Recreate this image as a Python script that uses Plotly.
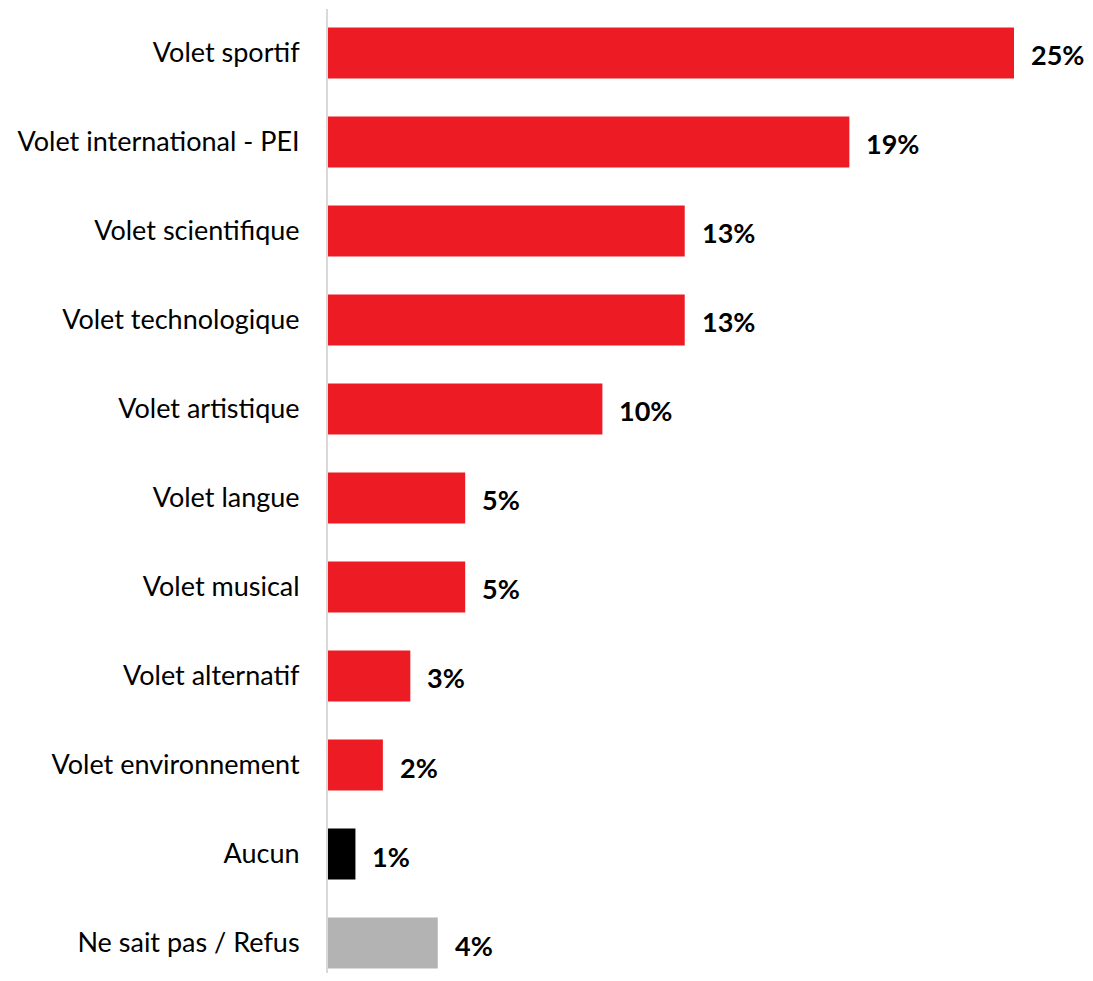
import plotly.graph_objects as go

categories = ["Volet sportif", "Volet international - PEI", "Volet scientifique",
              "Volet technologique", "Volet artistique", "Volet langue",
              "Volet musical", "Volet alternatif", "Volet environnement",
              "Aucun", "Ne sait pas / Refus"]
values = [25, 19, 13, 13, 10, 5, 5, 3, 2, 1, 4]
colors = ["#ED1C24"] * 9 + ["#000000", "#B3B3B3"]

FONT = "Lato"

fig = go.Figure()
fig.add_trace(go.Bar(
    x=values, y=categories, orientation="h",
    marker=dict(color=colors, line=dict(width=0)),
    width=0.575,
    hoverinfo="skip",
))

for c, v in zip(categories, values):
    fig.add_annotation(x=v, y=c, text=f"<b>{v}%</b>", showarrow=False,
                       xanchor="left", yanchor="middle", xshift=15, yshift=-2,
                       font=dict(family=FONT, size=27, color="#000000"))

# page body has an 8px default margin; compensate so the plot sits where intended
fig.update_layout(
    width=1077, height=965,
    margin=dict(l=320, r=0, t=1, b=0),
    plot_bgcolor="white", paper_bgcolor="white",
    showlegend=False,
)
fig.update_xaxes(range=[0, 757 / 27.44], visible=False, showgrid=False, zeroline=False)
fig.update_yaxes(
    categoryorder="array", categoryarray=categories,
    range=[10.337, -0.494],
    showgrid=False, zeroline=False,
    showline=True, linecolor="#D9D9D9", linewidth=2,
    ticks="", ticklabelstandoff=21,
    tickfont=dict(family=FONT, size=27, color="#000000"),
)

fig.write_html("out.html")
